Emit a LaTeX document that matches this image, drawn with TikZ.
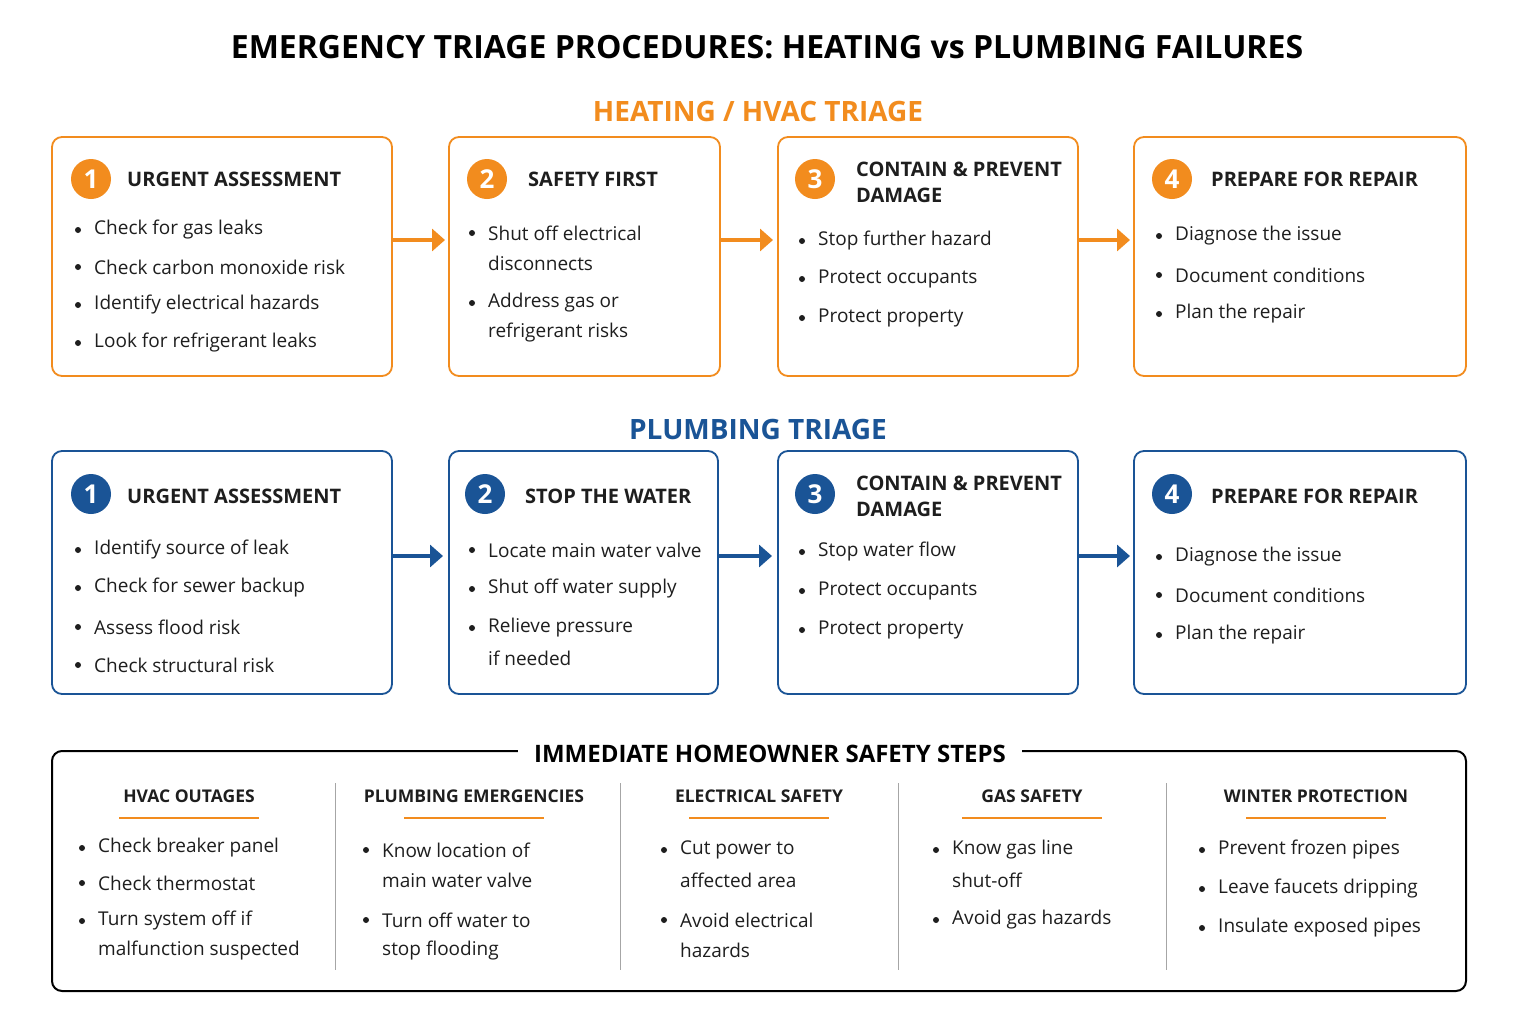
\documentclass[tikz,border=0pt]{standalone}
\usepackage{fontspec}
\setmainfont{Open Sans}
\usetikzlibrary{arrows.meta}
\definecolor{org}{HTML}{F28C1E}
\definecolor{blu}{HTML}{1A5496}
\definecolor{txt}{HTML}{1E1E1E}
\newcommand\myb[3]{\fill[txt] (#1-16,-#2) circle (3pt); \node[bt] at (#1,-#2) {#3};}
\begin{document}
\begin{tikzpicture}[x=1pt,y=1pt,
 bt/.style={anchor=west,inner sep=0,font=\fontsize{19}{22}\selectfont,text=txt},
 hd/.style={anchor=west,inner sep=0,font=\fontsize{20}{26}\selectfont\bfseries,text=txt,align=left},
 obox/.style={draw=org,line width=1.8pt,rounded corners=10pt},
 bbox/.style={draw=blu,line width=1.8pt,rounded corners=10pt},
 num/.style={circle,minimum size=40pt,inner sep=0,text=white,font=\fontsize{26}{26}\selectfont\bfseries},
 arr/.style={line width=4pt,-{Triangle[length=13pt,width=22pt]}},
 ch/.style={inner sep=0,font=\fontsize{17.5}{20}\selectfont\bfseries,text=txt}]
\useasboundingbox[fill=white] (0,0) rectangle (1518,-1023);
\node[font=\fontsize{32}{36}\selectfont\bfseries,text=black] (title) at (767,-47) {EMERGENCY TRIAGE PROCEDURES: HEATING vs PLUMBING FAILURES};
% HVAC
\node[font=\fontsize{28}{30}\selectfont\bfseries,text=org] (ht) at (758,-111) {HEATING / HVAC TRIAGE};
\draw[obox] (52,-137) rectangle (392,-376);
\draw[obox] (449,-137) rectangle (720,-376);
\draw[obox] (778,-137) rectangle (1078,-376);
\draw[obox] (1134,-137) rectangle (1466,-376);
\coordinate (a1) at (392,-240); \coordinate (b1) at (445,-240);
\coordinate (a2) at (720,-240); \coordinate (b2) at (773,-240);
\coordinate (a3) at (1078,-240); \coordinate (b3) at (1130,-240);
\draw[arr,org] (a1)--(b1); \draw[arr,org] (a2)--(b2); \draw[arr,org] (a3)--(b3);
\node[num,fill=org] (hn1) at (91,-179) {1};
\node[num,fill=org] (hn2) at (487,-179) {2};
\node[num,fill=org] (hn3) at (815,-179) {3};
\node[num,fill=org] (hn4) at (1172,-179) {4};
\node[hd] at (127,-179) {URGENT ASSESSMENT};
\node[hd] at (528,-179) {SAFETY FIRST};
\node[hd] at (856,-182) {CONTAIN \& PREVENT\\DAMAGE};
\node[hd] at (1211,-179) {PREPARE FOR REPAIR};
\myb{94}{230}{Check for gas leaks}
\myb{94}{267}{Check carbon monoxide risk}
\myb{94}{305}{Identify electrical hazards}
\myb{94}{343}{Look for refrigerant leaks}
\myb{488}{233}{Shut off electrical}
\node[bt] at (488,-263) {disconnects};
\myb{488}{303}{Address gas or}
\node[bt] at (488,-333) {refrigerant risks};
\myb{818}{241}{Stop further hazard}
\myb{818}{279}{Protect occupants}
\myb{818}{318}{Protect property}
\myb{1175}{236}{Diagnose the issue}
\myb{1175}{275}{Document conditions}
\myb{1175}{314}{Plan the repair}
% Plumbing
\node[font=\fontsize{28}{30}\selectfont\bfseries,text=blu] (pt) at (758,-429) {PLUMBING TRIAGE};
\draw[bbox] (52,-451) rectangle (392,-694);
\draw[bbox] (449,-451) rectangle (718,-694);
\draw[bbox] (778,-451) rectangle (1078,-694);
\draw[bbox] (1134,-451) rectangle (1466,-694);
\coordinate (c1) at (392,-556); \coordinate (d1) at (443,-556);
\coordinate (c2) at (718,-556); \coordinate (d2) at (772,-556);
\coordinate (c3) at (1078,-556); \coordinate (d3) at (1130,-556);
\draw[arr,blu] (c1)--(d1); \draw[arr,blu] (c2)--(d2); \draw[arr,blu] (c3)--(d3);
\node[num,fill=blu] (pn1) at (91,-494) {1};
\node[num,fill=blu] (pn2) at (485,-494) {2};
\node[num,fill=blu] (pn3) at (815,-494) {3};
\node[num,fill=blu] (pn4) at (1172,-494) {4};
\node[hd] at (127,-496) {URGENT ASSESSMENT};
\node[hd] at (525,-496) {STOP THE WATER};
\node[hd] at (856,-496) {CONTAIN \& PREVENT\\DAMAGE};
\node[hd] at (1211,-496) {PREPARE FOR REPAIR};
\myb{94}{550}{Identify source of leak}
\myb{94}{588}{Check for sewer backup}
\myb{94}{627}{Assess flood risk}
\myb{94}{665}{Check structural risk}
\myb{488}{550}{Locate main water valve}
\myb{488}{589}{Shut off water supply}
\myb{488}{628}{Relieve pressure}
\node[bt] at (488,-658) {if needed};
\myb{818}{552}{Stop water flow}
\myb{818}{591}{Protect occupants}
\myb{818}{630}{Protect property}
\myb{1175}{557}{Diagnose the issue}
\myb{1175}{595}{Document conditions}
\myb{1175}{635}{Plan the repair}
% Safety steps
\draw[line width=2pt,draw=black,rounded corners=10pt] (52,-751) rectangle (1466,-991);
\node[fill=white,inner xsep=16pt,font=\fontsize{24}{26}\selectfont\bfseries,text=black] (st) at (770,-754) {IMMEDIATE HOMEOWNER SAFETY STEPS};
\foreach \x in {335,620,898,1166} \draw[gray!70,line width=1pt] (\x,-783)--(\x,-970);
\foreach \x/\t in {189/HVAC OUTAGES,474/PLUMBING EMERGENCIES,759/ELECTRICAL SAFETY,1032/GAS SAFETY,1316/WINTER PROTECTION}{
 \node[ch] at (\x,-796) {\t};
 \draw[org,line width=2pt] (\x-70,-818)--(\x+70,-818);}
\myb{98}{848}{Check breaker panel}
\myb{98}{883}{Check thermostat}
\myb{98}{921}{Turn system off if}
\node[bt] at (98,-950) {malfunction suspected};
\myb{382}{850}{Know location of}
\node[bt] at (382,-880) {main water valve};
\myb{382}{920}{Turn off water to}
\node[bt] at (382,-950) {stop flooding};
\myb{680}{850}{Cut power to}
\node[bt] at (680,-880) {affected area};
\myb{680}{920}{Avoid electrical}
\node[bt] at (680,-950) {hazards};
\myb{952}{850}{Know gas line}
\node[bt] at (952,-880) {shut-off};
\myb{952}{920}{Avoid gas hazards}
\myb{1218}{850}{Prevent frozen pipes}
\myb{1218}{889}{Leave faucets dripping}
\myb{1218}{928}{Insulate exposed pipes}
\end{tikzpicture}
\end{document}
